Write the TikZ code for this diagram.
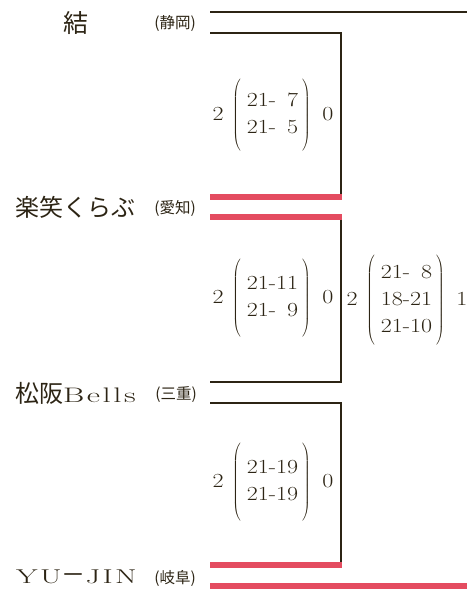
\documentclass[tikz,border=0pt]{standalone}
\usepackage{fontspec}
\newfontfamily\jpfont{Noto Sans CJK JP}
\newfontfamily\widefont{Latin Modern Roman}[FakeStretch=1.55,LetterSpace=12]
\newfontfamily\scorefont{Latin Modern Roman}[FakeStretch=1.2]
\usetikzlibrary{positioning}

\definecolor{inkbrown}{RGB}{44,36,20}
\definecolor{winred}{RGB}{228,76,96}

% won, games, lost, paren height
\newcommand{\matchscore}[4]{%
  $\mbox{#1}\hspace{5pt}\left(\vcenter{\hbox{\rule{0pt}{#4}}}\hspace{6pt}%
  \begin{tabular}{@{}r@{}}#2\end{tabular}\hspace{4pt}\right)\hspace{8pt}\mbox{#3}$}

\tikzset{
  team/.style={anchor=base west, inner sep=0pt, text=inkbrown,
    font=\jpfont\fontsize{24}{24}\selectfont},
  pref/.style={anchor=base east, inner sep=0pt, text=inkbrown,
    font=\jpfont\fontsize{15.5}{15.5}\selectfont},
  score/.style={inner sep=0pt, text=inkbrown,
    font=\scorefont\fontsize{20}{27}\selectfont},
  plainline/.style={draw=inkbrown, line width=1.8pt},
  winline/.style={draw=winred, line width=5.5pt},
}

\begin{document}
\begin{tikzpicture}[x=1pt, y=-1pt]
	\useasboundingbox (0,0) rectangle (467,589);

	% bracket ends for each team
	\coordinate (edge) at (467,0);
	\foreach \n/\yu/\yl in {1/12/33, 2/197/217, 3/382/403, 4/565/586}{
			\coordinate (t\n-u) at (210,\yu);
			\coordinate (t\n-l) at (210,\yl);
			\coordinate (k\n-u) at (341,\yu);
			\coordinate (k\n-l) at (341,\yl);
		}

	\draw [plainline] (t1-u) -- (t1-u -| edge);
	\draw [plainline] (t1-l) -- (k1-l) -- (k2-u);
	\draw [plainline] (k2-l) -- (k3-u) -- (t3-u);
	\draw [plainline] (t3-l) -- (k3-l) -- (k4-u);

	% winners
	\draw [winline] (t2-u) -- ([xshift=1pt]k2-u);
	\draw [winline] (t2-l) -- ([xshift=1pt]k2-l);
	\draw [winline] (t4-u) -- ([xshift=1pt]k4-u);
	\draw [winline] (t4-l) -- (t4-l -| edge);

	% teams
	\node [team, font=\jpfont\fontsize{25}{25}\selectfont] (yui) at (63,32) {結};
	\node [pref] (yui-pref) at (196,28) {(静岡)};
	\node [team] (rakusho) at (15,216) {楽笑くらぶ};
	\node [pref] (rakusho-pref) at (196,213) {(愛知)};
	\node [team] (matsusaka) at (15,402) {松阪{\widefont\fontsize{21}{21}\selectfont Bells}};
	\node [pref] (matsusaka-pref) at (197,399) {(三重)};
	\node [team] (yujin) at (16,583) {{\widefont\fontsize{20}{20}\selectfont YU}－{\widefont\fontsize{20}{20}\selectfont JIN}};
	\node [pref] (yujin-pref) at (196,583) {(岐阜)};

	% scores
	\node [score] (m1) at (273,115) {\matchscore{2}{21-\phantom{1}7\\21-\phantom{1}5}{0}{72pt}};
	\node [score] (m2) at (273,298) {\matchscore{2}{21-11\\21-\phantom{1}9}{0}{80pt}};
	\node [score] (m3) at (407,300) {\matchscore{2}{21-\phantom{1}8\\18-21\\21-10}{1}{95pt}};
	\node [score] (m4) at (273,482) {\matchscore{2}{21-19\\21-19}{0}{80pt}};
\end{tikzpicture}
\end{document}
